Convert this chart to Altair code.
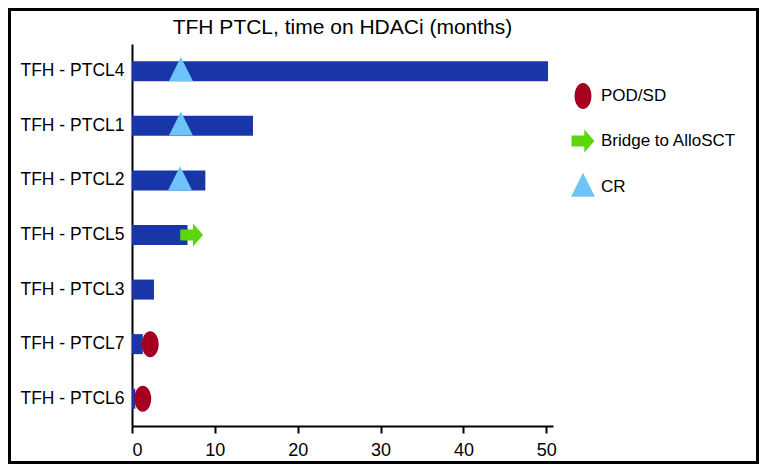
import altair as alt
import pandas as pd

patients = ["TFH - PTCL4", "TFH - PTCL1", "TFH - PTCL2", "TFH - PTCL5",
            "TFH - PTCL3", "TFH - PTCL7", "TFH - PTCL6"]
months = [50.2, 14.6, 8.85, 6.7, 2.65, 1.3, 0.4]

event_patients = ["TFH - PTCL4", "TFH - PTCL1", "TFH - PTCL2", "TFH - PTCL5",
                  "TFH - PTCL7", "TFH - PTCL6"]
event_months = [5.9, 5.9, 5.8, 7.2, 2.2, 1.3]
event_types = ["CR", "CR", "CR", "Bridge to AlloSCT", "POD/SD", "POD/SD"]

legend_order = ["POD/SD", "Bridge to AlloSCT", "CR"]
legend_colors = ["#a50021", "#5ad60a", "#6ec4f8"]
ellipse = "M-0.65,0A0.65,1,0,1,0,0.65,0A0.65,1,0,1,0,-0.65,0Z"
arrow = "M-0.88,-0.42L0.1,-0.42L0.1,-0.88L0.88,0L0.1,0.88L0.1,0.42L-0.88,0.42Z"
triangle = "M0,-1.1L0.92,0.75L-0.92,0.75Z"
legend_shapes = [ellipse, arrow, triangle]

bars_df = pd.DataFrame({"patient": patients, "months": months})
ev_df = pd.DataFrame({"patient": event_patients, "months": event_months, "event": event_types})

W, H = 421, 382
PL, PT = 124, 36
TW, TH = 751, 456

xscale = alt.Scale(domain=[0, 50.8], nice=False, zero=True)
yscale = alt.Scale(paddingInner=0, paddingOuter=0)

bars = alt.Chart(bars_df).mark_bar(size=20, color="#1836a8").encode(
    x=alt.X("months:Q", scale=xscale,
            axis=alt.Axis(values=[0, 10, 20, 30, 40, 50], title=None, grid=False,
                          domainColor="black", domainWidth=2, tickColor="black",
                          tickWidth=2, tickSize=7, labelFontSize=18, labelColor="black",
                          labelPadding=8, labelFont="Liberation Sans")),
    y=alt.Y("patient:N", sort=patients, scale=yscale,
            axis=alt.Axis(title=None, ticks=False, domainColor="black", domainWidth=2,
                          labelFontSize=17.5, labelColor="black", labelPadding=8,
                          labelFont="Liberation Sans")),
)

leg = alt.Legend(title=None, orient="none", legendX=438, legendY=39,
                 labelFontSize=17, labelColor="black", labelFont="Liberation Sans",
                 symbolSize=676, symbolOpacity=1, symbolStrokeWidth=0,
                 rowPadding=19, labelOffset=5, padding=0)

points = alt.Chart(ev_df).mark_point(filled=True, opacity=1, size=676, strokeWidth=0).encode(
    x=alt.X("months:Q", scale=xscale),
    y=alt.Y("patient:N", sort=patients, scale=yscale),
    color=alt.Color("event:N", scale=alt.Scale(domain=legend_order, range=legend_colors),
                    legend=leg),
    shape=alt.Shape("event:N", scale=alt.Scale(domain=legend_order, range=legend_shapes),
                    legend=leg),
)

frame = alt.Chart(pd.DataFrame({"a": [0]})).mark_rect(
    filled=False, stroke="black", strokeWidth=3
).encode(
    x=alt.value(-PL + 1.5), x2=alt.value(TW - PL - 1.5),
    y=alt.value(-PT + 1.5), y2=alt.value(TH - PT - 1.5),
)

chart = alt.layer(bars, points, frame).properties(
    width=W, height=H,
    autosize="none",
    padding={"left": PL, "top": PT, "right": TW - PL - W, "bottom": TH - PT - H},
    title=alt.TitleParams("TFH PTCL, time on HDACi (months)", fontSize=21,
                          fontWeight="normal", font="Liberation Sans", color="black",
                          anchor="middle", baseline="alphabetic", offset=10, dy=57),
).configure_view(stroke=None)

chart.save("out.html", embed_options={"renderer": "svg", "actions": False})
